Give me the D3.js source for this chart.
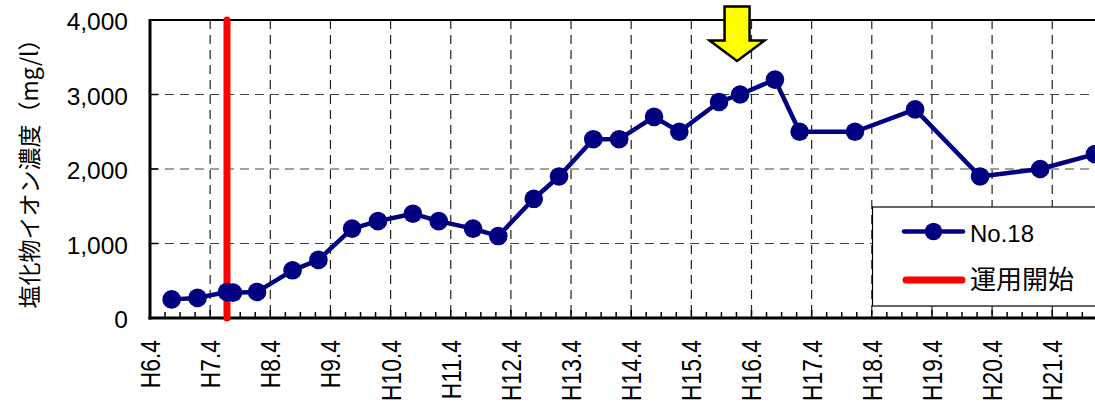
<!DOCTYPE html>
<html lang="ja">
<head>
<meta charset="utf-8">
<script src="https://cdn.jsdelivr.net/npm/d3@7"></script>
<style>
  html, body { margin: 0; padding: 0; background: #fff; }
  svg { display: block; }
</style>
</head>
<body>
<svg id="chart" width="1095" height="406"></svg>
<script>
// Sampling dates as decimal Heisei years (H6.4 = 6.25) and chloride ion concentration (mg/l)
const sampleDates = [6.61, 7.04, 7.53, 7.63, 8.03, 8.62, 9.05, 9.61, 10.04, 10.62,
  11.05, 11.62, 12.04, 12.63, 13.05, 13.62, 14.05, 14.63, 15.05, 15.71,
  16.06, 16.64, 17.05, 17.97, 18.97, 20.05, 21.05, 21.96];
const chloride = [250, 270, 350, 340, 350, 640, 780, 1200, 1300, 1400,
  1300, 1200, 1100, 1600, 1900, 2400, 2400, 2700, 2500, 2900,
  3000, 3200, 2500, 2500, 2800, 1900, 2000, 2200];

// Fiscal-year tick labels (April of each year)
const yearTicks = [6.25, 7.25, 8.25, 9.25, 10.25, 11.25, 12.25, 13.25, 14.25, 15.25,
  16.25, 17.25, 18.25, 19.25, 20.25, 21.25];
const yearLabels = ["H6.4", "H7.4", "H8.4", "H9.4", "H10.4", "H11.4", "H12.4", "H13.4",
  "H14.4", "H15.4", "H16.4", "H17.4", "H18.4", "H19.4", "H20.4", "H21.4"];
const yTicks = [0, 1000, 2000, 3000, 4000];

// Start of operation and the highlighted sample
const operationStart = 7.53;
const highlightDate = 16.01;
const highlightLevel = 3450;

const seriesName = "No.18";
const startName = "運用開始";
const yTitle = "塩化物イオン濃度（mg/l）";

const svg = d3.select("#chart");
const plotLeft = 150, plotTop = 20, plotBottom = 318, yearWidth = 60.15;

const x = d3.scaleLinear().domain([6.25, 22.0]).range([plotLeft, plotLeft + 15.75 * yearWidth]);
const y = d3.scaleLinear().domain([0, 4000]).range([plotBottom, plotTop]);
const plotRight = x.range()[1];

const navy = "#000080";

// Grid lines
const grid = svg.append("g");
grid.selectAll("line.v").data(yearTicks.slice(1)).join("line")
  .attr("x1", d => x(d)).attr("x2", d => x(d))
  .attr("y1", plotTop).attr("y2", plotBottom)
  .attr("stroke", "#222").attr("stroke-width", 1.2).attr("stroke-dasharray", "9,6");
grid.selectAll("line.h").data(yTicks.filter(d => d > 0 && d < 4000)).join("line")
  .attr("x1", plotLeft).attr("x2", plotRight)
  .attr("y1", d => y(d)).attr("y2", d => y(d))
  .attr("stroke", "#444").attr("stroke-width", 1.2).attr("stroke-dasharray", "9,6");

// Quarterly ticks inside the bottom axis
const quarterTicks = d3.range(6.25, 22.0, 0.25);
svg.append("g").selectAll("line").data(quarterTicks).join("line")
  .attr("x1", d => x(d)).attr("x2", d => x(d))
  .attr("y1", plotBottom)
  .attr("y2", (d, i) => plotBottom - (i % 4 === 0 ? 8 : 6))
  .attr("stroke", "#000").attr("stroke-width", 1.5);

// Y ticks inside the left axis
svg.append("g").selectAll("line").data(yTicks).join("line")
  .attr("x1", plotLeft).attr("x2", plotLeft + 8)
  .attr("y1", d => y(d)).attr("y2", d => y(d))
  .attr("stroke", "#000").attr("stroke-width", 1.5);

// Plot frame: top border, left and bottom axes
svg.append("line").attr("x1", plotLeft).attr("x2", plotRight).attr("y1", plotTop).attr("y2", plotTop)
  .attr("stroke", "#000").attr("stroke-width", 2);
svg.append("line").attr("x1", plotLeft).attr("x2", plotLeft).attr("y1", plotTop - 1).attr("y2", plotBottom + 1.5)
  .attr("stroke", "#000").attr("stroke-width", 3);
svg.append("line").attr("x1", plotLeft - 1.5).attr("x2", plotRight).attr("y1", plotBottom).attr("y2", plotBottom)
  .attr("stroke", "#000").attr("stroke-width", 3);

// Y tick labels
svg.append("g").selectAll("text").data(yTicks).join("text")
  .attr("x", 128).attr("y", d => y(d) + 1.5)
  .attr("dy", "0.36em")
  .attr("text-anchor", "end")
  .attr("font-family", "'Liberation Sans', Arial, sans-serif")
  .attr("font-size", 24.5)
  .text(d => d3.format(",")(d));

// X tick labels, rotated
svg.append("g").selectAll("text").data(yearTicks).join("text")
  .attr("transform", d => `translate(${x(d)},340) rotate(-90) scale(0.83,1)`)
  .attr("dy", "0.36em")
  .attr("text-anchor", "end")
  .attr("font-family", "'Liberation Sans', Arial, sans-serif")
  .attr("font-size", 27.5)
  .text((d, i) => yearLabels[i]);

// Y axis title
svg.append("text")
  .attr("transform", "translate(30,168) rotate(-90)")
  .attr("dy", "0.36em")
  .attr("text-anchor", "middle")
  .attr("font-family", "'Noto Sans CJK JP', sans-serif")
  .attr("font-size", 23)
  .text(yTitle);

// Operation start line
svg.append("line")
  .attr("x1", x(operationStart)).attr("x2", x(operationStart))
  .attr("y1", y(4000)).attr("y2", y(0))
  .attr("stroke", "#ff0000").attr("stroke-width", 7).attr("stroke-linecap", "round");

// Concentration series
const pts = sampleDates.map((d, i) => [d, chloride[i]]);
svg.append("path")
  .datum(pts)
  .attr("fill", "none")
  .attr("stroke", navy)
  .attr("stroke-width", 4.5)
  .attr("stroke-linejoin", "round")
  .attr("d", d3.line().x(d => x(d[0])).y(d => y(d[1])));
svg.append("g").selectAll("circle").data(pts).join("circle")
  .attr("cx", d => x(d[0])).attr("cy", d => y(d[1]))
  .attr("r", 9.3).attr("fill", navy);

// Highlight arrow pointing down at the peak period
const tipX = x(highlightDate), tipY = y(highlightLevel);
const arrow = [[0, 0], [-27.5, -20.5], [-12.5, -20.5], [-12.5, -54.5],
  [12.5, -54.5], [12.5, -20.5], [27.5, -20.5]];
svg.append("polygon")
  .attr("points", arrow.map(p => [tipX + p[0], tipY + p[1]].join(",")).join(" "))
  .attr("fill", "#ffff00").attr("stroke", "#000").attr("stroke-width", 2.5)
  .attr("stroke-linejoin", "miter");

// Legend
const lg = svg.append("g");
lg.append("rect").attr("x", 872.5).attr("y", 207).attr("width", 260).attr("height", 99)
  .attr("fill", "#fff").attr("stroke", "#000").attr("stroke-width", 1.2);
lg.append("line").attr("x1", 904).attr("x2", 963).attr("y1", 231.5).attr("y2", 231.5)
  .attr("stroke", navy).attr("stroke-width", 4.5).attr("stroke-linecap", "round");
lg.append("circle").attr("cx", 933.5).attr("cy", 231.5).attr("r", 8.7).attr("fill", navy);
lg.append("text").attr("x", 970).attr("y", 241.5)
  .attr("font-family", "'Liberation Sans', Arial, sans-serif")
  .attr("font-size", 24)
  .text(seriesName);
lg.append("line").attr("x1", 906).attr("x2", 962).attr("y1", 280).attr("y2", 280)
  .attr("stroke", "#ff0000").attr("stroke-width", 7).attr("stroke-linecap", "round");
lg.append("text").attr("x", 970).attr("y", 280).attr("dy", "0.36em")
  .attr("font-family", "'Noto Sans CJK JP', sans-serif")
  .attr("font-size", 26)
  .text(startName);
</script>
</body>
</html>
